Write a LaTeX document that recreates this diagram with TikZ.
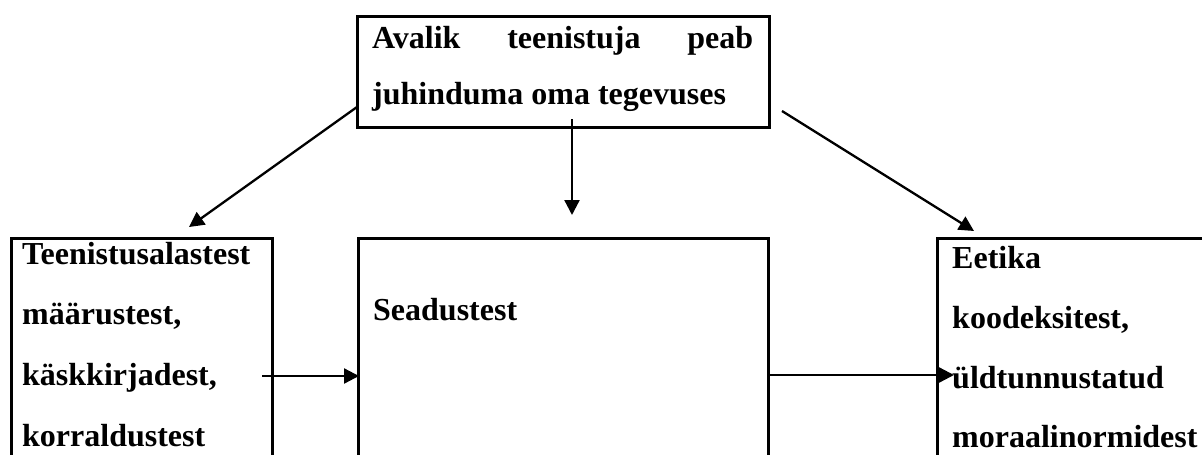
\documentclass[tikz,border=0pt]{standalone}
\usepackage{fontspec}
\setmainfont{Liberation Serif}
\usetikzlibrary{arrows.meta}
\tikzset{
  box/.style={draw, line width=2.6pt, rectangle, inner sep=0pt, anchor=north west},
  txt/.style={inner sep=0pt, anchor=base west, font=\fontsize{32}{38}\selectfont\bfseries},
  conn/.style={line width=2.3pt, -{Triangle[length=15pt,width=15pt]}}
}
\begin{document}
\begin{tikzpicture}[x=1pt,y=-1pt]
\clip (0,0) rectangle (1202,455);
\fill[white] (0,0) rectangle (1202,455);

% boxes
\node[box, minimum width=412pt, minimum height=111pt] (top) at (356,15) {};
\node[box, minimum width=261pt, minimum height=260pt] (left) at (10,237) {};
\node[box, minimum width=410pt, minimum height=260pt] (mid) at (357,237) {};
\node[box, minimum width=300pt, minimum height=260pt] (right) at (936,237) {};

% top text
\node[txt] (top1) at (372,48) {\makebox[381pt]{Avalik\hfill teenistuja\hfill peab}};
\node[txt] (top2) at (372,104) {juhinduma oma tegevuses};

% left text
\node[txt] (l1) at (22,264) {Teenistusalastest};
\node[txt] (l2) at (22,324) {määrustest,};
\node[txt] (l3) at (22,385) {käskkirjadest,};
\node[txt] (l4) at (22,446) {korraldustest};

% middle text
\node[txt] (m1) at (373,320) {Seadustest};

% right text
\node[txt] (r1) at (952,268) {Eetika};
\node[txt] (r2) at (952,328) {koodeksitest,};
\node[txt] (r3) at (952,388) {üldtunnustatud};
\node[txt] (r4) at (952,447) {moraalinormidest};

% connector ends
\coordinate (aL0) at (357,107);
\coordinate (aL1) at (189,227);
\coordinate (aM0) at (572,119);
\coordinate (aM1) at (572,215);
\coordinate (aR0) at (782,111);
\coordinate (aR1) at (974,231);
\coordinate (hL0) at (262,376);
\coordinate (hL1) at (359,376);
\coordinate (hR0) at (767,375);
\coordinate (hR1) at (954,375);

\draw[conn] (aL0) -- (aL1);
\draw[conn] (aM0) -- (aM1);
\draw[conn] (aR0) -- (aR1);
\draw[conn] (hL0) -- (hL1);
\draw[conn] (hR0) -- (hR1);
\end{tikzpicture}
\end{document}
